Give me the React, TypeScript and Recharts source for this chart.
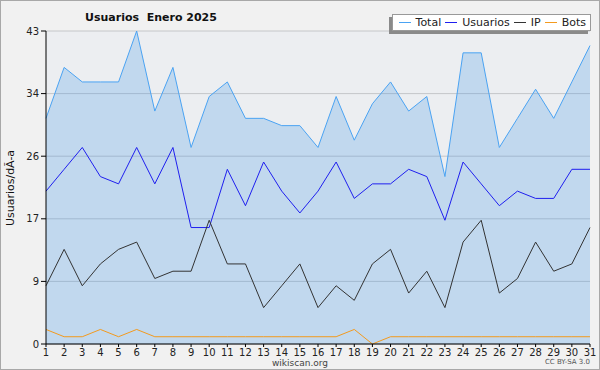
import { ComposedChart, Area, Line, XAxis, YAxis, CartesianGrid } from "recharts";

const days = [1, 2, 3, 4, 5, 6, 7, 8, 9, 10, 11, 12, 13, 14, 15, 16, 17, 18, 19, 20, 21, 22, 23, 24, 25, 26, 27, 28, 29, 30, 31];
const total = [31, 38, 36, 36, 36, 43, 32, 38, 27, 34, 36, 31, 31, 30, 30, 27, 34, 28, 33, 36, 32, 34, 23, 40, 40, 27, 31, 35, 31, 36, 41];
const usuarios = [21, 24, 27, 23, 22, 27, 22, 27, 16, 16, 24, 19, 25, 21, 18, 21, 25, 20, 22, 22, 24, 23, 17, 25, 22, 19, 21, 20, 20, 24, 24];
const ip = [8, 13, 8, 11, 13, 14, 9, 10, 10, 17, 11, 11, 5, 8, 11, 5, 8, 6, 11, 13, 7, 10, 5, 14, 17, 7, 9, 14, 10, 11, 16];
const bots = [2, 1, 1, 2, 1, 2, 1, 1, 1, 1, 1, 1, 1, 1, 1, 1, 1, 2, 0, 1, 1, 1, 1, 1, 1, 1, 1, 1, 1, 1, 1];
const yTicks = [0, 8.6, 17.2, 25.8, 34.4, 43];

const series = [
  { key: "total", label: "Total", color: "#4aa3f3" },
  { key: "usuarios", label: "Usuarios", color: "#1f1fef" },
  { key: "ip", label: "IP", color: "#333333" },
  { key: "bots", label: "Bots", color: "#f39a1e" },
];

const data = days.map((d, i) => ({
  day: d,
  total: total[i],
  usuarios: usuarios[i],
  ip: ip[i],
  bots: bots[i],
}));

const font = "'DejaVu Sans', sans-serif";

function LegendBox() {
  return (
    <div
      style={{
        position: "absolute",
        right: 8,
        top: 13,
        display: "flex",
        alignItems: "center",
        gap: 4,
        background: "#fff",
        border: "1px solid #999",
        boxShadow: "-3px 3px 0 #8a8a8a",
        padding: "0 4px 0 6px",
        fontFamily: font,
        fontSize: 11,
        lineHeight: "15px",
        color: "#222",
      }}
    >
      {series.map((s) => (
        <span key={s.key} style={{ display: "flex", alignItems: "center" }}>
          <span style={{ display: "inline-block", width: 12, height: 0, borderTop: `1px solid ${s.color}`, marginRight: 5 }} />
          {s.label}
        </span>
      ))}
    </div>
  );
}

function YLabel() {
  return (
    <text x={13} y={187} transform="rotate(-90 13 187)" textAnchor="middle" fontFamily={font} fontSize={11} fill="#111">
      Usuarios/dÃ-a
    </text>
  );
}

export default function App() {
  return (
    <div
      style={{
        position: "fixed",
        left: 0,
        top: 0,
        width: 598,
        height: 368,
        background: "#f1f1f1",
        border: "1px solid #a8a8a8",
        overflow: "hidden",
      }}
    >
      <div style={{ position: "absolute", left: 84, top: 10, fontFamily: font, fontWeight: "bold", fontSize: 11, lineHeight: "13px", color: "#111", whiteSpace: "pre" }}>
        Usuarios  Enero 2025
      </div>
      <ComposedChart width={598} height={368} data={data} margin={{ top: 30, right: 9, left: 0, bottom: 10 }}>
        <CartesianGrid vertical={false} fill="#eceef1" stroke="#c4c6c9" horizontalValues={yTicks} />
        <XAxis
          dataKey="day"
          type="number"
          domain={[1, 31]}
          ticks={days}
          interval={0}
          height={15}
          tickSize={3}
          stroke="#000"
          tick={{ fontSize: 10, fontFamily: font, fill: "#222" }}
        />
        <YAxis
          domain={[0, 43]}
          ticks={yTicks}
          width={45}
          tickSize={5}
          stroke="#000"
          tickFormatter={(v) => String(Math.round(v))}
          tick={{ fontSize: 10, fontFamily: font, fill: "#222" }}
          label={<YLabel />}
        />
        <Area dataKey="total" type="linear" stroke="#4aa3f3" strokeWidth={1} fill="#3a93e4" fillOpacity={0.24} isAnimationActive={false} dot={false} />
        <Line dataKey="usuarios" type="linear" stroke="#1f1fef" strokeWidth={1} dot={false} isAnimationActive={false} />
        <Line dataKey="ip" type="linear" stroke="#333333" strokeWidth={1} dot={false} isAnimationActive={false} />
        <Line dataKey="bots" type="linear" stroke="#f39a1e" strokeWidth={1} dot={false} isAnimationActive={false} />
      </ComposedChart>
      <LegendBox />
      <div style={{ position: "absolute", left: 0, width: 598, top: 357, textAlign: "center", fontFamily: font, fontSize: 9, lineHeight: "10px", color: "#444" }}>
        wikiscan.org
      </div>
      <div style={{ position: "absolute", right: 9, top: 357, fontFamily: font, fontSize: 7, lineHeight: "9px", color: "#555" }}>
        CC BY-SA 3.0
      </div>
    </div>
  );
}
